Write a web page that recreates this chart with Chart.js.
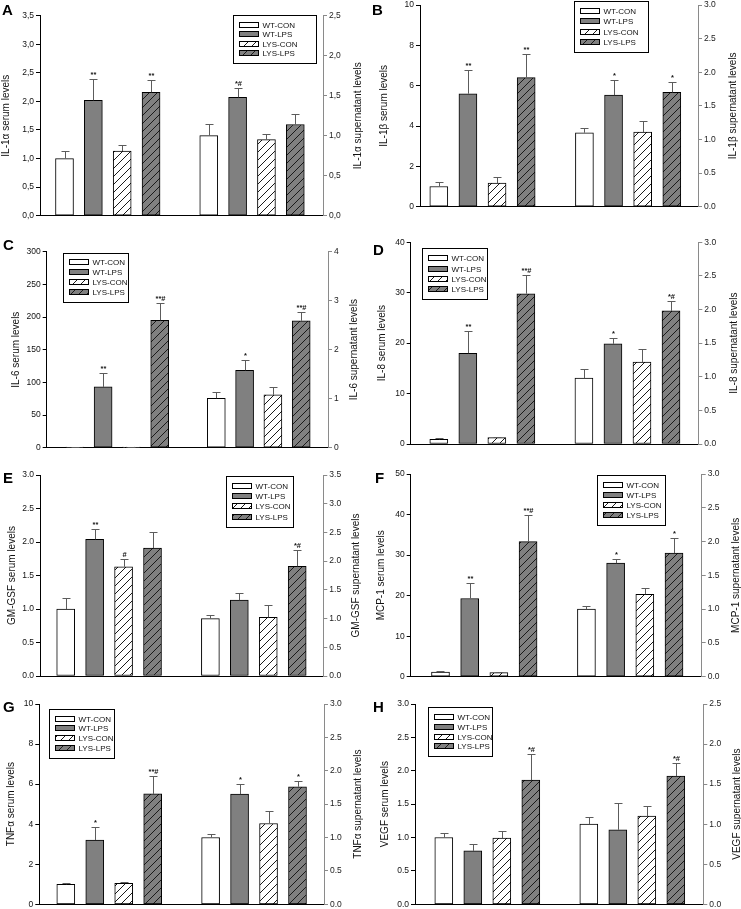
<!DOCTYPE html>
<html>
<head>
<meta charset="utf-8">
<script src="https://cdn.jsdelivr.net/npm/chart.js@4.4.1/dist/chart.umd.min.js"></script>
<style>
  html, body { margin: 0; padding: 0; background: #fff; }
  body { position: relative; width: 741px; height: 909px; overflow: hidden; }
  canvas { position: absolute; }
</style>
</head>
<body>
<script>
// --- data ---
const FONT = "'Liberation Sans', Arial, Helvetica, sans-serif";
const groups = ['WT-CON', 'WT-LPS', 'LYS-CON', 'LYS-LPS'];
const letters = ['A', 'B', 'C', 'D', 'E', 'F', 'G', 'H'];
const cytokines = ['IL-1α', 'IL-1β', 'IL-6', 'IL-8', 'GM-GSF', 'MCP-1', 'TNFα', 'VEGF'];

// serum = left axis, sup = supernatant (right axis); *Err = SEM above the bar
const serumA = [1.00, 2.02, 1.13, 2.16];
const serumErrA = [0.14, 0.37, 0.10, 0.22];
const supA = [1.00, 1.48, 0.95, 1.14];
const supErrA = [0.15, 0.12, 0.07, 0.13];
const sigSerumA = ['', '**', '', '**'];
const sigSupA = ['', '*#', '', ''];

const serumB = [1.00, 5.60, 1.17, 6.40];
const serumErrB = [0.20, 1.20, 0.30, 1.15];
const supB = [1.10, 1.66, 1.11, 1.70];
const supErrB = [0.07, 0.23, 0.17, 0.16];
const sigSerumB = ['', '**', '', '**'];
const sigSupB = ['', '*', '', '*'];

const serumC = [0.8, 93, 0.8, 195];
const serumErrC = [0.2, 21, 0.2, 27];
const supC = [1.01, 1.58, 1.08, 2.59];
const supErrC = [0.12, 0.20, 0.15, 0.17];
const sigSerumC = ['', '**', '', '**#'];
const sigSupC = ['', '*', '', '**#'];

const serumD = [0.93, 18.0, 1.26, 29.8];
const serumErrD = [0.17, 4.4, 0.14, 3.7];
const supD = [0.98, 1.49, 1.22, 1.98];
const supErrD = [0.14, 0.09, 0.19, 0.14];
const sigSerumD = ['', '**', '', '**#'];
const sigSupD = ['', '*', '', '*#'];

const serumE = [1.00, 2.04, 1.63, 1.91];
const serumErrE = [0.17, 0.15, 0.11, 0.24];
const supE = [1.00, 1.32, 1.02, 1.91];
const supErrE = [0.07, 0.13, 0.22, 0.28];
const sigSerumE = ['', '**', '#', ''];
const sigSupE = ['', '', '', '*#'];

const serumF = [1.15, 19.3, 1.0, 33.3];
const serumErrF = [0.15, 3.7, 0.1, 6.5];
const supF = [1.00, 1.68, 1.22, 1.83];
const supErrF = [0.04, 0.06, 0.09, 0.23];
const sigSerumF = ['', '**', '', '**#'];
const sigSupF = ['', '*', '', '*'];

const serumG = [1.00, 3.21, 1.05, 5.51];
const serumErrG = [0.05, 0.67, 0.05, 0.91];
const supG = [1.00, 1.65, 1.21, 1.76];
const supErrG = [0.06, 0.15, 0.18, 0.09];
const sigSerumG = ['', '*', '', '**#'];
const sigSupG = ['', '*', '', '*'];

const serumH = [1.00, 0.80, 0.99, 1.86];
const serumErrH = [0.07, 0.11, 0.11, 0.39];
const supH = [1.00, 0.93, 1.10, 1.60];
const supErrH = [0.09, 0.34, 0.13, 0.16];
const sigSerumH = ['', '', '', '*#'];
const sigSupH = ['', '', '', '*#'];

// axis ranges: [max, step, decimals]
const leftAxes = [[3.5, 0.5, 1], [10, 2, 0], [300, 50, 0], [40, 10, 0], [3, 0.5, 1], [50, 10, 0], [10, 2, 0], [3, 0.5, 1]];
const rightAxes = [[2.5, 0.5, 1], [3, 0.5, 1], [4, 1, 0], [3, 0.5, 1], [3.5, 0.5, 1], [3, 0.5, 1], [3, 0.5, 1], [2.5, 0.5, 1]];

const panels = [
  { serum: serumA, serumErr: serumErrA, sup: supA, supErr: supErrA, sigS: sigSerumA, sigP: sigSupA, comma: true },
  { serum: serumB, serumErr: serumErrB, sup: supB, supErr: supErrB, sigS: sigSerumB, sigP: sigSupB },
  { serum: serumC, serumErr: serumErrC, sup: supC, supErr: supErrC, sigS: sigSerumC, sigP: sigSupC },
  { serum: serumD, serumErr: serumErrD, sup: supD, supErr: supErrD, sigS: sigSerumD, sigP: sigSupD },
  { serum: serumE, serumErr: serumErrE, sup: supE, supErr: supErrE, sigS: sigSerumE, sigP: sigSupE },
  { serum: serumF, serumErr: serumErrF, sup: supF, supErr: supErrF, sigS: sigSerumF, sigP: sigSupF },
  { serum: serumG, serumErr: serumErrG, sup: supG, supErr: supErrG, sigS: sigSerumG, sigP: sigSupG },
  { serum: serumH, serumErr: serumErrH, sup: supH, supErr: supErrH, sigS: sigSerumH, sigP: sigSupH }
];

// --- layout (page pixels) ---
// l/r: left & right axis x, t/b: top tick & zero y, f/g: first/last bar inset,
// tl/tr: axis title centers, lx/ly: panel letter, leg: legend box
const frames = [
  { l: 40, r: 323, t: 15.7, b: 215.7, f: 24.5, g: 27.7, tl: 6, tr: 358, lx: 2, ly: 15, leg: [233, 15, 316, 63] },
  { l: 420, r: 698, t: 5, b: 206.7, f: 18.8, g: 26.2, tl: 384, tr: 733, lx: 372, ly: 15, leg: [574, 1, 648, 52] },
  { l: 46.7, r: 328, t: 251.7, b: 447.7, f: 28.1, g: 26.8, tl: 16, tr: 354, lx: 3, ly: 250, leg: [63, 252.7, 128, 301.7] },
  { l: 410.7, r: 698.3, t: 242.3, b: 444, f: 28.1, g: 27.3, tl: 382, tr: 734, lx: 373, ly: 255, leg: [421.7, 248.3, 486.7, 299] },
  { l: 40, r: 323.3, t: 475, b: 676, f: 25.7, g: 26.1, tl: 12, tr: 356, lx: 3, ly: 483, leg: [226, 476, 292.7, 526.7] },
  { l: 410.7, r: 701.7, t: 474, b: 676.7, f: 29.8, g: 27.7, tl: 381, tr: 736, lx: 375, ly: 483, leg: [596.7, 475, 665, 525] },
  { l: 39.3, r: 324, t: 704, b: 904.3, f: 26.5, g: 26.5, tl: 11, tr: 358, lx: 3, ly: 712, leg: [49.3, 709, 114.3, 757.7] },
  { l: 415, r: 703.3, t: 704, b: 904.3, f: 28.8, g: 27.5, tl: 385, tr: 737, lx: 373, ly: 712, leg: [428.3, 707.3, 492.7, 756] }
];

const GRAY = '#808080';

function hatch(ctx, bg) {
  const c = document.createElement('canvas');
  c.width = c.height = 8;
  const x = c.getContext('2d');
  x.fillStyle = bg;
  x.fillRect(0, 0, 8, 8);
  x.strokeStyle = '#1a1a1a';
  x.lineWidth = 1;
  x.beginPath();
  x.moveTo(-1, 9); x.lineTo(9, -1);
  x.moveTo(-1, 1); x.lineTo(1, -1);
  x.moveTo(7, 9); x.lineTo(9, 7);
  x.stroke();
  return ctx.createPattern(c, 'repeat');
}

function fmt(v, dec, comma) {
  const s = v.toFixed(dec);
  return comma ? s.replace('.', ',') : s;
}

function drawErrors(chart, dsIndex, axisId, vals, errs, sigs) {
  const ctx = chart.ctx;
  const scale = chart.scales[axisId];
  chart.getDatasetMeta(dsIndex).data.forEach((bar, i) => {
    const top = scale.getPixelForValue(vals[i] + errs[i]);
    const x = Math.round(bar.x) + 0.5;
    const yc = Math.round(top) + 0.5;
    ctx.save();
    ctx.strokeStyle = '#5c5c5c';
    ctx.lineWidth = 1;
    ctx.beginPath();
    ctx.moveTo(x, bar.y);
    ctx.lineTo(x, yc);
    ctx.moveTo(x - 4, yc);
    ctx.lineTo(x + 4, yc);
    ctx.stroke();
    if (sigs[i]) {
      ctx.fillStyle = '#111';
      ctx.font = `bold 7.5px ${FONT}`;
      ctx.textAlign = 'center';
      ctx.textBaseline = 'alphabetic';
      ctx.fillText(sigs[i], x, yc - 3);
    }
    ctx.restore();
  });
}

function makePanel(k) {
  const p = panels[k];
  const fr = frames[k];
  const x0 = Math.round(fr.l) - 50;
  const y0 = Math.round(fr.t) - 12;
  const W = Math.ceil(fr.r - x0 + 45);
  const H = Math.ceil(fr.b - y0 + 8);
  const leftW = fr.l - x0;
  const rightW = W - (fr.r - x0);
  const padTop = fr.t - y0;
  const bottomH = H - (fr.b - y0);

  const canvas = document.createElement('canvas');
  canvas.width = W;
  canvas.height = H;
  canvas.style.left = x0 + 'px';
  canvas.style.top = y0 + 'px';
  canvas.style.width = W + 'px';
  canvas.style.height = H + 'px';
  document.body.appendChild(canvas);
  const ctx = canvas.getContext('2d');

  const fills = ['#ffffff', GRAY, hatch(ctx, '#ffffff'), hatch(ctx, GRAY)];
  const step = (fr.r - fr.l - fr.f - fr.g) / 8;
  const xmin = -fr.f / step;
  const xmax = 8 + fr.g / step;
  const [lmax, lstep, ldec] = leftAxes[k];
  const [rmax, rstep, rdec] = rightAxes[k];

  const barStyle = {
    backgroundColor: fills,
    borderColor: '#000',
    borderWidth: 1,
    borderSkipped: false,
    barThickness: 18,
    grouped: false
  };

  new Chart(ctx, {
    type: 'bar',
    data: {
      datasets: [
        Object.assign({ label: 'serum', yAxisID: 'yL', data: p.serum.map((v, i) => ({ x: i, y: v })) }, barStyle),
        Object.assign({ label: 'supernatant', yAxisID: 'yR', data: p.sup.map((v, i) => ({ x: i + 5, y: v })) }, barStyle)
      ]
    },
    options: {
      responsive: false,
      animation: false,
      devicePixelRatio: 1,
      layout: { padding: { top: padTop, left: 0, right: 0, bottom: 0 } },
      plugins: { legend: { display: false }, tooltip: { enabled: false } },
      scales: {
        x: {
          type: 'linear',
          offset: false,
          min: xmin,
          max: xmax,
          ticks: { display: false },
          grid: { display: false },
          border: { display: true, color: '#000', width: 1 },
          afterFit: s => { s.height = bottomH; }
        },
        yL: {
          type: 'linear',
          position: 'left',
          min: 0,
          max: lmax,
          ticks: {
            stepSize: lstep,
            color: '#111',
            padding: 2,
            font: { family: FONT, size: 8.5 },
            callback: v => fmt(v, ldec, p.comma)
          },
          grid: { drawOnChartArea: false, drawTicks: true, tickLength: 4, color: '#000' },
          border: { display: true, color: '#000', width: 1 },
          afterFit: s => { s.width = leftW; }
        },
        yR: {
          type: 'linear',
          position: 'right',
          min: 0,
          max: rmax,
          ticks: {
            stepSize: rstep,
            color: '#222',
            padding: 2,
            font: { family: FONT, size: 8.5 },
            callback: v => fmt(v, rdec, p.comma)
          },
          grid: { drawOnChartArea: false, drawTicks: true, tickLength: 4, color: '#8a8a8a' },
          border: { display: true, color: '#8a8a8a', width: 1 },
          afterFit: s => { s.width = rightW; }
        }
      }
    },
    plugins: [{
      id: 'decor',
      afterDatasetsDraw(chart) {
        drawErrors(chart, 0, 'yL', p.serum, p.serumErr, p.sigS);
        drawErrors(chart, 1, 'yR', p.sup, p.supErr, p.sigP);
      },
      afterDraw(chart) {
        const c = chart.ctx;
        const midY = (fr.t + fr.b) / 2 - y0;
        c.save();
        c.fillStyle = '#111';
        c.font = `10px ${FONT}`;
        c.textAlign = 'center';
        c.textBaseline = 'middle';
        [[fr.tl, cytokines[k] + ' serum levels'], [fr.tr, cytokines[k] + ' supernatant levels']].forEach(([tx, txt]) => {
          c.save();
          c.translate(tx - x0, midY);
          c.rotate(-Math.PI / 2);
          c.fillText(txt, 0, 0);
          c.restore();
        });

        // panel letter
        c.font = `bold 15px ${FONT}`;
        c.textAlign = 'left';
        c.textBaseline = 'alphabetic';
        c.fillStyle = '#000';
        c.fillText(letters[k], fr.lx - x0, fr.ly - y0);

        // legend box
        const [lx1, ly1, lx2, ly2] = fr.leg;
        const bx = Math.round(lx1 - x0) + 0.5;
        const by = Math.round(ly1 - y0) + 0.5;
        const bh = ly2 - ly1;
        c.strokeStyle = '#000';
        c.lineWidth = 1;
        c.fillStyle = '#fff';
        c.fillRect(bx, by, Math.round(lx2 - lx1), Math.round(bh));
        c.strokeRect(bx, by, Math.round(lx2 - lx1), Math.round(bh));
        c.font = `8px ${FONT}`;
        c.textBaseline = 'middle';
        groups.forEach((g, i) => {
          const cy = Math.round(ly1 - y0 + bh * (i + 1) / 5);
          const sx = bx + 6;
          c.fillStyle = fills[i];
          c.fillRect(sx, cy - 2.5, 19, 5);
          c.strokeStyle = '#000';
          c.strokeRect(sx, cy - 2.5, 19, 5);
          c.fillStyle = '#111';
          c.fillText(g, sx + 23, cy + 0.5);
        });
        c.restore();
      }
    }]
  });
}

for (let k = 0; k < panels.length; k++) makePanel(k);
</script>
</body>
</html>
